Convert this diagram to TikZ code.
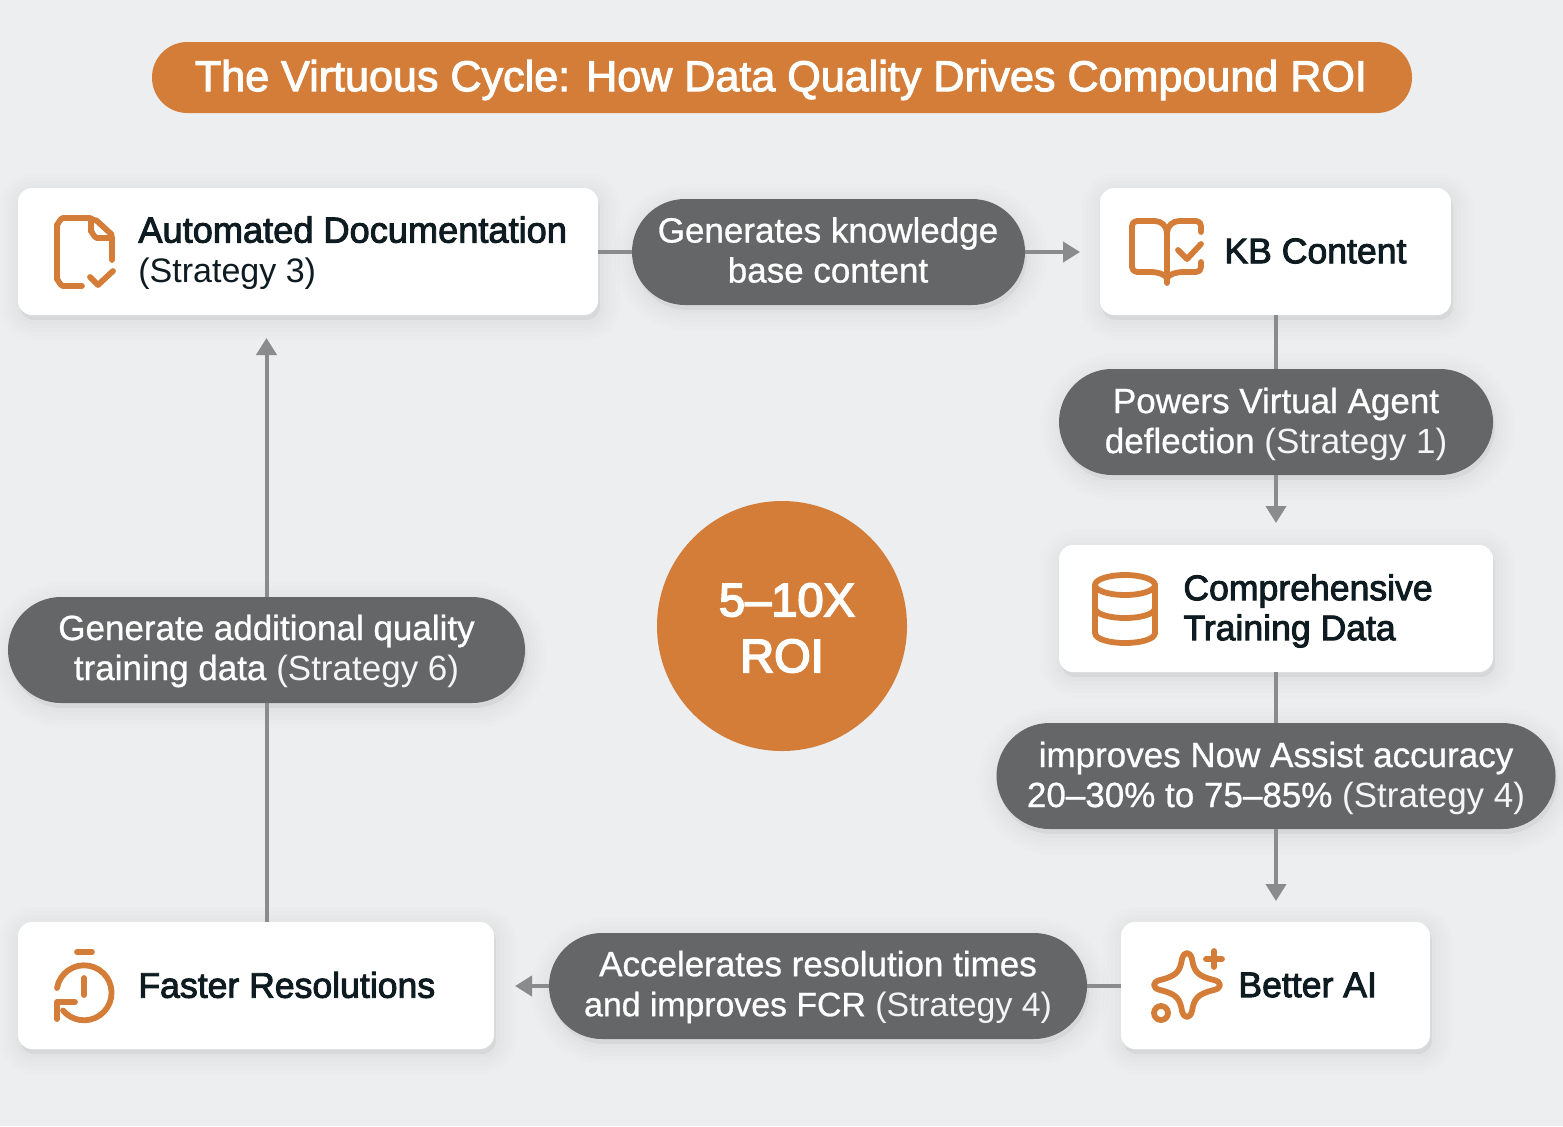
\documentclass[tikz,border=0pt]{standalone}
\usepackage{fontspec}
\setmainfont{Liberation Sans}
\newfontface\medf[FakeBold=2.6]{Liberation Sans}
\newfontface\semif[FakeBold=0.8]{Liberation Sans}
\newfontface\titlef[FakeBold=2.4]{Liberation Sans}
\newfontface\roif[FakeBold=3.6]{Liberation Sans}
\usetikzlibrary{arrows.meta,calc}
\definecolor{bgc}{HTML}{ECEEF0}
\definecolor{org}{HTML}{D47D38}
\definecolor{pillc}{HTML}{656668}
\definecolor{linec}{HTML}{8A8B8D}
\definecolor{ink}{HTML}{0E1B20}
\definecolor{paren}{HTML}{F5F5F5}
\tikzset{
 softsh/.style={
  preaction={draw=black,fill=black,draw opacity=.006,fill opacity=.006,line width=20pt,transform canvas={xshift=1pt,yshift=-2.5pt}},
  preaction={draw=black,fill=black,draw opacity=.007,fill opacity=.007,line width=16pt,transform canvas={xshift=1pt,yshift=-2.5pt}},
  preaction={draw=black,fill=black,draw opacity=.008,fill opacity=.008,line width=12pt,transform canvas={xshift=1pt,yshift=-2.5pt}},
  preaction={draw=black,fill=black,draw opacity=.009,fill opacity=.009,line width=8pt,transform canvas={xshift=1pt,yshift=-2.5pt}},
  preaction={draw=black,fill=black,draw opacity=.010,fill opacity=.010,line width=4pt,transform canvas={xshift=1pt,yshift=-2.5pt}}},
 boxn/.style={rectangle,fill=white,rounded corners=7pt,inner sep=0pt,softsh},
 pilln/.style={rectangle,fill=pillc,rounded corners=26.5pt,inner sep=0pt,softsh},
 pillt/.style={inner sep=0pt,text=white,align=center,font=\fontsize{17.5}{20}\selectfont\semif},
 boxt/.style={anchor=west,inner sep=0pt,text=ink,align=left,font=\fontsize{17.8}{20}\selectfont\medf},
 conn/.style={draw=linec,line width=2pt},
 arr/.style={conn,-{Triangle[length=8.5pt,width=10pt]}},
 icon/.style={draw=org,line width=2.9pt,line cap=round,line join=round},
}
\newcommand{\sg}[1]{{\normalfont\color{paren}#1}}
\begin{document}
\begin{tikzpicture}[x=.5pt,y=-.5pt]
\useasboundingbox (0,0) rectangle (1563,1126);
\fill[bgc] (0,0) rectangle (1563,1126);
% title
\node[rectangle,fill=org,rounded corners=17.7pt,minimum width=630pt,minimum height=35.5pt,inner sep=0pt] (title) at (782,77.5) {};
\node[inner sep=0pt,text=white,font=\fontsize{21.55}{24}\selectfont\titlef] (titlet) at (781,80) {The Virtuous Cycle: How Data Quality Drives Compound ROI};
% boxes
\node[boxn,minimum width=290pt,minimum height=63.5pt] (auto) at (308,251.5) {};
\node[boxn,minimum width=175.5pt,minimum height=63.5pt] (kb) at (1275.5,251.5) {};
\node[boxn,minimum width=217pt,minimum height=63.5pt] (comp) at (1276,608.5) {};
\node[boxn,minimum width=154.5pt,minimum height=63.5pt] (ai) at (1275.5,985.5) {};
\node[boxn,minimum width=238pt,minimum height=63.5pt] (fast) at (256,985.5) {};
% pills
\node[pilln,minimum width=196.5pt,minimum height=53pt] (p1) at (828.5,252) {};
\node[pilln,minimum width=217pt,minimum height=53pt] (p2) at (1276,422) {};
\node[pilln,minimum width=279.5pt,minimum height=53pt] (p3) at (1276,776) {};
\node[pilln,minimum width=269pt,minimum height=53pt] (p4) at (818,986) {};
\node[pilln,minimum width=258.5pt,minimum height=53pt] (p5) at (266.5,650) {};
\node[pillt] (pt1) at (828,250) {Generates knowledge\\base content};
\node[pillt] (pt2) at (1276,424) {Powers Virtual Agent\\deflection \sg{(Strategy 1)}};
\node[pillt] (pt3) at (1276,778) {improves Now Assist accuracy\\20–30\% to 75–85\% \sg{(Strategy 4)}};
\node[pillt] (pt4) at (818,987) {Accelerates resolution times\\\fontsize{16.9}{20}\selectfont and improves FCR \sg{(Strategy 4)}};
\node[pillt] (pt5) at (266.5,651) {Generate additional quality\\training data \sg{(Strategy 6)}};
% centre
\node[circle,fill=org,minimum size=125pt,inner sep=0pt] (roi) at (782,626) {};
\node[inner sep=0pt,text=white,align=center,font=\fontsize{23.5}{28}\selectfont\roif] (roit) at (782,628) {\hspace*{5pt}5–10X\\ROI};
% texts
\node[boxt] (t1) at (138,253) {{\fontsize{18.1}{20}\selectfont Automated Documentation}\\{\normalfont\fontsize{17}{20}\selectfont (Strategy 3)}};
\node[boxt] (t2) at (1224,251) {KB Content};
\node[boxt] (t3) at (1183,611) {Comprehensive\\Training Data};
\node[boxt] (t4) at (1238,985) {Better AI};
\node[boxt] (t5) at (138,985) {Faster Resolutions};
% free ends
\coordinate (e1) at (1080,252);
\coordinate (e2) at (1276,523);
\coordinate (e3) at (1276,901);
\coordinate (e4) at (515,986);
\coordinate (e5) at (266.5,338);
% connectors
\draw[conn] (auto.east |- p1.west) -- (p1.west);
\draw[arr] (p1.east) -- (e1);
\draw[conn] (kb.south -| p2.north) -- (p2.north);
\draw[arr] (p2.south) -- (e2);
\draw[conn] (comp.south -| p3.north) -- (p3.north);
\draw[arr] (p3.south) -- (e3);
\draw[conn] (ai.west |- p4.east) -- (p4.east);
\draw[arr] (p4.west) -- (e4);
\draw[conn] (fast.north -| p5.south) -- (p5.south);
\draw[arr] (p5.north) -- (e5);
% doc icon
\draw[icon] (82,286) -- (63,286) to[out=180,in=90] (57,280) -- (57,224) to[out=-90,in=180] (63,218) -- (90,218) to[out=0,in=-135] (96,220) -- (110,233) to[out=45,in=-90] (112,238) -- (112,260);
\draw[icon] (91,219) -- (91,232) to[out=90,in=180] (97,238) -- (112,238);
\draw[icon] (90,277) -- (98,285) -- (113,271);
% book icon
\draw[icon] (1167,283) -- (1167,233) .. controls (1167,226) and (1161,221) .. (1155,221) -- (1137,221) .. controls (1134,221) and (1132,223) .. (1132,226) -- (1132,267) .. controls (1132,270) and (1134,272) .. (1137,272) -- (1150,272) .. controls (1158,272) and (1164,274) .. (1167,278);
\draw[icon] (1167,233) .. controls (1167,226) and (1173,221) .. (1179,221) -- (1196,221) .. controls (1199,221) and (1201,223) .. (1201,226) -- (1201,232);
\draw[icon] (1167,278) .. controls (1170,274) and (1176,272) .. (1184,272) -- (1196,272) .. controls (1199,272) and (1201,270) .. (1201,267) -- (1201,262);
\draw[icon] (1178,250) -- (1187,259) -- (1201,244);
% database icon
\draw[icon] (1125,585) ellipse [x radius=30,y radius=10];
\draw[icon] (1095,585) -- (1095,633) .. controls (1095,639) and (1109,643) .. (1125,643) .. controls (1141,643) and (1155,639) .. (1155,633) -- (1155,585);
\draw[icon] (1095,608) .. controls (1095,614) and (1109,618) .. (1125,618) .. controls (1141,618) and (1155,614) .. (1155,608);
% sparkle icon
\draw[icon] (1182,959) .. controls (1184,951) and (1190,951) .. (1192,959) .. controls (1194,971) and (1197,976) .. (1214,980) .. controls (1222,982) and (1222,988) .. (1214,990) .. controls (1197,994) and (1194,999) .. (1192,1011) .. controls (1190,1019) and (1184,1019) .. (1182,1011) .. controls (1180,999) and (1177,994) .. (1160,990) .. controls (1152,988) and (1152,982) .. (1160,980) .. controls (1177,976) and (1180,971) .. (1182,959) -- cycle;
\draw[icon] (1161,1013) circle [radius=7];
\draw[icon] (1206,959) -- (1222,959);
\draw[icon] (1214,951) -- (1214,967);
% clock icon
\draw[icon] (57,988) arc[start angle=-170,end angle=140,radius=27.5];
\draw[icon] (75,1002) -- (57,1002) -- (57,1019);
\draw[icon] (84,978) -- (84,995);
\draw[icon] (77,952) -- (92,952);
\end{tikzpicture}
\end{document}
